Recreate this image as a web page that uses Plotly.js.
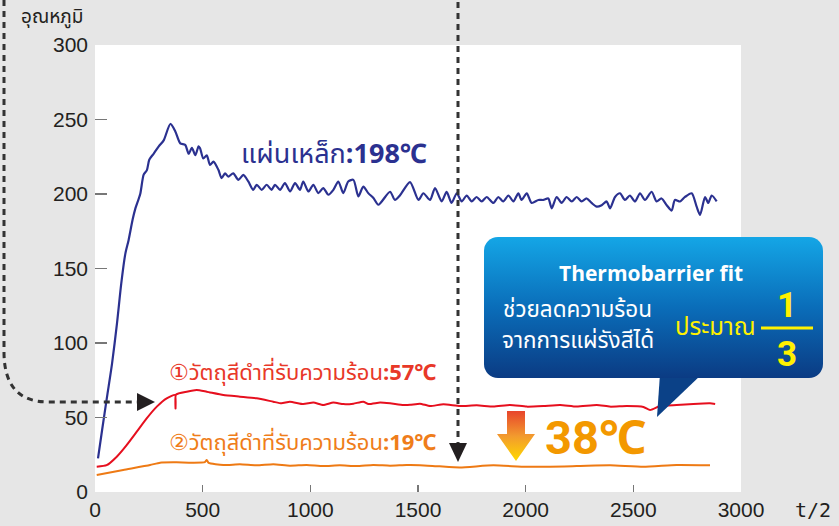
<!DOCTYPE html>
<html>
<head>
<meta charset="utf-8">
<script src="https://cdn.plot.ly/plotly-3.0.1.min.js"></script>
<style>html,body{margin:0;padding:0;background:#e6e6e6;}</style>
</head>
<body>
<div id="chart" style="width:839px;height:526px;"></div>
<script>
// ---- data ----
const steelX = [14,33,56,79,102,122,141,156,175,187,210,226,241,252,272,296,319,350,373,396,419,435,450,466,481,
  488,503,519,534,550,573,588,604,619,642,666,689,712,735,751,774,797,820,836,859,882,906,929,952,967,991,1014,1037,1060,1084,1107,1130,1153,1176,1200,1223,1246,1269,1293,1316,
  1370,1393,1416,1463,1502,1525,1556,1579,1610,1633,1656,1680,1703,1726,1749,1772,1796,1819,1850,1873,1896,1920,1943,1966,1981,2005,2028,2059,2082,2105,2121,2144,2167,2190,2214,2237,2260,2283,2306,2330,2353,2376,2392,2415,2438,2461,2484,2508,2531,2554,2585,2608,2631,2655,2678,2693,2717,2740,2771,2794,2810,2833,2848,2864,2887];
const steelY = [22.6,41.6,64,86,113,140,160,169,183,190,200,213,216,223,227,232,236,247,242,234,233,227,231,226,232,
  230.7,223.9,226,219.5,221.7,216.2,210.6,213.9,211.7,213.9,209.5,212.8,208.4,202.8,206.2,202.8,206.2,202.8,206.2,202.8,207.3,201.7,207.3,202.8,208.4,201.7,206.2,200.6,204,199.5,202.8,208.4,200.6,208.4,209.5,198.4,205,200.6,197.3,192.8,
  201.5,196,199,208,196,200.5,196,204,195,201.5,194,200.5,195,199,195,198,195,198,194,198,195,199,195,200.5,196,200.5,194,196,196,197,190.4,198,194,198,195,198,195,197,194,191.5,192.5,195,190.4,198,200.5,196,199,195,200.5,196,201.5,195,197,192.5,188.9,196,195,198,200.5,191.5,186,198,194,199,195];

const black1X = [8,54,101,147,194,240,287,333,372,374,376,426,472,519,596,673,751,828,866,905,967,1014,1060,1107,1153,1200,1246,1270,1324,1370,1432,1463,1509,1556,1618,1695,1773,1850,1927,2005,2082,2160,2237,2330,2392,2469,2547,2578,2624,2701,2779,2856,2880];
const black1Y = [17,18,23.7,31.5,40.5,49.4,57.3,62.9,65.1,56,65.3,67.3,68.5,67.3,65.1,64,62.9,60.6,59.5,60.6,59,60,58.4,60,59,59.3,60.6,59,60,59.5,58.4,58.5,59.3,57.7,58.9,57.7,58.2,57.3,58.4,57.3,57.7,58.4,57.3,58.4,57.3,57.7,57.1,55,57.7,58.4,59.1,59.5,59.1];

const black2X = [8,131,256,302,379,441,510,519,528,596,673,751,828,905,983,1060,1137,1215,1292,1370,1447,1509,1600,1695,1850,2005,2237,2392,2547,2701,2856];
const black2Y = [11.4,14.8,18.1,19.7,19.9,19.7,20.0,21.5,19.5,18.1,18.6,17.9,18.6,17.7,18.1,17.4,17.9,17.4,18.1,17.7,18.1,18.0,17.2,16.5,17.9,16.9,17.4,17.9,16.9,18.1,17.9];

const xTicks = [0,500,1000,1500,2000,2500,3000];
const yTicks = [0,50,100,150,200,250,300];

// ---- geometry helpers (pixel -> paper) ----
const L = 95, R = 98, T = 45, B = 34, W = 839, H = 526;
const PW = W - L - R, PH = H - T - B;
const X = px => (px - L) / PW;
const Y = py => (H - B - py) / PH;

const thai = "'Noto Sans Thai', 'Noto Sans Thai UI', 'Noto Sans', 'DejaVu Sans', sans-serif";
const bold = "Roboto, 'Open Sans', 'Noto Sans', sans-serif";

const traces = [
  {x: steelX, y: steelY, mode: 'lines', line: {color: '#2b3190', width: 2.2, shape: 'spline', smoothing: 0.7}, hoverinfo: 'skip'},
  {x: black1X, y: black1Y, mode: 'lines', line: {color: '#e60f1e', width: 2, shape: 'spline', smoothing: 0.5}, hoverinfo: 'skip'},
  {x: black2X, y: black2Y, mode: 'lines', line: {color: '#ee7a14', width: 2, shape: 'spline', smoothing: 0.5}, hoverinfo: 'skip'}
];

const svg = `<svg xmlns="http://www.w3.org/2000/svg" width="839" height="526" viewBox="0 0 839 526">
<defs>
<linearGradient id="g1" x1="0" y1="0" x2="0" y2="1"><stop offset="0" stop-color="#14a6e6"/><stop offset="0.5" stop-color="#0a6db9"/><stop offset="1" stop-color="#0b3b83"/></linearGradient>
<linearGradient id="g2" x1="0" y1="0" x2="0" y2="1"><stop offset="0" stop-color="#e8452c"/><stop offset="0.5" stop-color="#f29a2e"/><stop offset="1" stop-color="#ffd900"/></linearGradient>
</defs>
<polygon points="660,374 702,374 657,417" fill="#0b4187"/>
<rect x="484" y="237" width="339" height="141" rx="14" fill="url(#g1)"/>
<polygon points="507,411 525,411 525,434 535,434 516,461 497,434 507,434" fill="url(#g2)"/>
</svg>`;

const dash = {color: '#333333', width: 3, dash: '6px,5px'};
const shapes = [
  {type: 'path', xref: 'paper', yref: 'paper', layer: 'above',
   path: `M ${X(4)} ${Y(0)} L ${X(4)} ${Y(352)} Q ${X(4)} ${Y(402)} ${X(48)} ${Y(402)} L ${X(138)} ${Y(402)}`,
   line: dash},
  {type: 'path', xref: 'paper', yref: 'paper', layer: 'above',
   path: `M ${X(137)} ${Y(393)} L ${X(155)} ${Y(402)} L ${X(137)} ${Y(411)} Z`,
   fillcolor: '#231f20', line: {width: 0}},
  {type: 'line', xref: 'paper', yref: 'paper', layer: 'above',
   x0: X(458), x1: X(458), y0: Y(2), y1: Y(444), line: dash},
  {type: 'path', xref: 'paper', yref: 'paper', layer: 'above',
   path: `M ${X(449)} ${Y(443)} L ${X(467)} ${Y(443)} L ${X(458)} ${Y(462)} Z`,
   fillcolor: '#231f20', line: {width: 0}},
  {type: 'line', xref: 'paper', yref: 'paper', layer: 'above',
   x0: X(761), x1: X(813), y0: Y(328), y1: Y(328), line: {color: '#fff100', width: 3}}
];

function ann(text, px, py, size, color, family, extra) {
  return Object.assign({text: text, xref: 'paper', yref: 'paper', x: X(px), y: Y(py),
    xanchor: 'center', yanchor: 'middle', showarrow: false, borderpad: 0,
    font: {size: size, color: color, family: family}}, extra || {});
}

const annotations = [
  ann('อุณหภูมิ', 52, 18, 19, '#231f20', thai),
  ann('t/2', 813, 510, 20, '#231f20', "'DejaVu Sans Mono', monospace"),
  ann('แผ่นเหล็ก<b>:198℃</b>', 334, 154, 27, '#2b3190', thai),
  ann('①วัตถุสีดำที่รับความร้อน<b>:57℃</b>', 302, 373, 22, '#e83828', thai),
  ann('②วัตถุสีดำที่รับความร้อน<b>:19℃</b>', 302, 443, 22, '#ef7d1a', thai),
  ann('<b>38℃</b>', 595, 437, 47, '#f39800', bold),
  ann('<b>Thermobarrier fit</b>', 651, 273, 21, '#ffffff', "'Open Sans', 'Noto Sans', sans-serif"),
  ann('ช่วยลดความร้อน', 577, 309.5, 22.5, '#ffffff', thai),
  ann('จากการแผ่รังสีได้', 578, 341, 22.5, '#ffffff', thai),
  ann('ประมาณ', 715, 328, 24, '#fff100', thai),
  ann('<b>1</b>', 787, 305, 35, '#fff100', bold),
  ann('<b>3</b>', 787, 354, 35, '#fff100', bold)
];

const layout = {
  width: W, height: H,
  margin: {l: L, r: R, t: T, b: B, pad: 0},
  paper_bgcolor: '#e6e6e6', plot_bgcolor: '#ffffff',
  showlegend: false,
  xaxis: {range: [0, 3000], tickvals: xTicks, ticktext: xTicks.map(String), ticks: 'inside', ticklen: 7, tickwidth: 1.5, tickcolor: '#777',
    showgrid: false, zeroline: false, showline: false, fixedrange: true, ticklabelstandoff: 3,
    tickfont: {family: "'Liberation Sans', Arial, sans-serif", size: 21, color: '#231f20'}},
  yaxis: {range: [0, 300], tickvals: yTicks, ticktext: yTicks.map(String), ticks: 'inside', ticklen: 12, tickwidth: 1.5, tickcolor: '#777',
    showgrid: false, zeroline: false, showline: false, fixedrange: true, ticklabelstandoff: 6,
    tickfont: {family: "'Liberation Sans', Arial, sans-serif", size: 21, color: '#231f20'}},
  shapes: shapes,
  annotations: annotations,
  images: [{source: 'data:image/svg+xml;charset=utf-8,' + encodeURIComponent(svg),
    xref: 'paper', yref: 'paper', x: X(0), y: Y(0), sizex: W / PW, sizey: H / PH,
    xanchor: 'left', yanchor: 'top', sizing: 'stretch', layer: 'above'}]
};

Plotly.newPlot('chart', traces, layout, {staticPlot: true, displayModeBar: false});
</script>
</body>
</html>
